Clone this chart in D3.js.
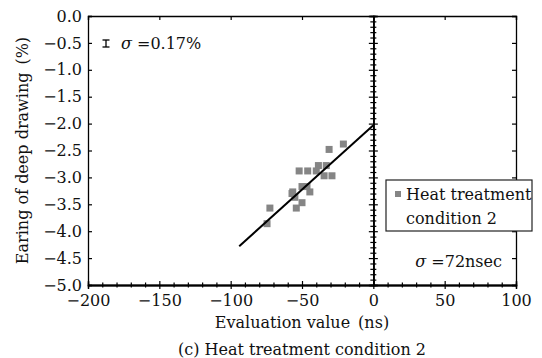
<!DOCTYPE html>
<html>
<head>
<meta charset="utf-8">
<title>Earing vs evaluation value</title>
<script src="https://d3js.org/d3.v7.min.js"></script>
<style>
  body { margin: 0; background: #fff; }
  svg text { font-family: "DejaVu Serif", serif; fill: #111; font-size: 16px; }
  .domain { stroke: #000; }
  .tick line { stroke: #000; }
</style>
</head>
<body>
<div id="chart"></div>
<script>
// data
var evalValue = [-21, -31, -52, -46, -40, -38.5, -33, -34.5, -29, -50, -46.5, -56.5, -44.5, -55, -50, -54, -72.5, -74.5, -57];
var earing    = [-2.38, -2.48, -2.88, -2.88, -2.88, -2.78, -2.78, -2.97, -2.97, -3.17, -3.17, -3.27, -3.27, -3.37, -3.47, -3.57, -3.57, -3.86, -3.3];
var fitX = [-94, 0];
var fitY = [-4.28, -2.03];
var xTicks = [-200, -150, -100, -50, 0, 50, 100];
var yTicks = [0, -0.5, -1, -1.5, -2, -2.5, -3, -3.5, -4, -4.5, -5];
var legendLines = ["Heat treatment", "condition 2"];

var W = 542, H = 358;
var margin = { top: 16, right: 26, bottom: 73, left: 88 };
var width = W - margin.left - margin.right;
var height = H - margin.top - margin.bottom;

var svg = d3.select("#chart").append("svg")
    .attr("width", W)
    .attr("height", H);
var g = svg.append("g")
    .attr("transform", "translate(" + margin.left + "," + margin.top + ")");

var x = d3.scaleLinear().domain([-200, 100]).range([0, width]);
var y = d3.scaleLinear().domain([-5, 0]).range([height, 0]);

function fmt(v, d) {
  var s = Math.abs(v).toFixed(d);
  return v < 0 ? "\u2212" + s : s;
}

// minor tick values
var xMinor = d3.range(-200, 101, 10).filter(v => v % 50 != 0);
var yMinor = d3.range(0, 51, 1).map(v => -v / 10).filter(v => Math.round(v * 10) % 5 != 0);

// left axis (with labels)
g.append("g")
    .call(d3.axisRight(y).tickValues(yTicks).tickSize(4).tickFormat(""));
g.append("g")
    .call(d3.axisLeft(y).tickValues(yTicks).tickSize(0).tickPadding(6).tickFormat(d => fmt(d, 1)))
    .call(s => s.select(".domain").remove())
    .selectAll("text").style("font-size", "16px");

// right axis
g.append("g")
    .attr("transform", "translate(" + width + ",0)")
    .call(d3.axisLeft(y).tickValues(yTicks).tickSize(4).tickFormat(""));

// top axis
g.append("g")
    .call(d3.axisBottom(x).tickValues(xTicks).tickSize(4).tickFormat(""));

// bottom axis: crossing ticks
var bottom = g.append("g").attr("transform", "translate(0," + height + ")");
bottom.append("g").call(d3.axisBottom(x).tickValues(xTicks).tickSize(4).tickFormat(""));
bottom.append("g").call(d3.axisTop(x).tickValues(xTicks).tickSize(4).tickFormat(""));
bottom.append("g").call(d3.axisBottom(x).tickValues(xMinor).tickSize(2.5).tickFormat(""));
bottom.append("g").call(d3.axisTop(x).tickValues(xMinor).tickSize(2.5).tickFormat(""));
bottom.append("g")
    .call(d3.axisBottom(x).tickValues(xTicks).tickSize(0).tickPadding(10).tickFormat(d => fmt(d, 0)))
    .call(s => s.select(".domain").remove())
    .selectAll("text").style("font-size", "16px");

// middle axis at x = 0
var mid = g.append("g").attr("transform", "translate(" + x(0) + ",0)");
mid.append("g").call(d3.axisLeft(y).tickValues(yTicks).tickSize(4.5).tickFormat(""));
mid.append("g").call(d3.axisRight(y).tickValues(yTicks).tickSize(4.5).tickFormat(""));
mid.append("g").call(d3.axisLeft(y).tickValues(yMinor).tickSize(3).tickFormat(""));
mid.append("g").call(d3.axisRight(y).tickValues(yMinor).tickSize(3).tickFormat(""));
g.selectAll(".domain").attr("stroke-width", 1.3);
g.selectAll(".tick line").attr("stroke-width", 1.2);

// points
var pts = evalValue.map((v, i) => ({ x: v, y: earing[i] }));
g.selectAll(".pt")
    .data(pts)
    .enter().append("rect")
    .attr("class", "pt")
    .attr("x", d => x(d.x) - 3.5)
    .attr("y", d => y(d.y) - 3.5)
    .attr("width", 7)
    .attr("height", 7)
    .attr("fill", "#858585");

// fit line
g.append("line")
    .attr("x1", x(fitX[0])).attr("y1", y(fitY[0]))
    .attr("x2", x(fitX[1])).attr("y2", y(fitY[1]))
    .attr("stroke", "#000")
    .attr("stroke-width", 2);

// error bar annotation
var eb = g.append("g").attr("transform", "translate(18,27.5)");
eb.append("line").attr("x1", 0).attr("x2", 0).attr("y1", -3.5).attr("y2", 3.5).attr("stroke", "#000").attr("stroke-width", 1.3);
eb.append("line").attr("x1", -3.5).attr("x2", 3.5).attr("y1", -3.5).attr("y2", -3.5).attr("stroke", "#000").attr("stroke-width", 1.3);
eb.append("line").attr("x1", -3.5).attr("x2", 3.5).attr("y1", 3.5).attr("y2", 3.5).attr("stroke", "#000").attr("stroke-width", 1.3);
var t1 = g.append("text").attr("x", 33).attr("y", 33);
t1.append("tspan").style("font-style", "italic").text("\u03c3");
t1.append("tspan").text(" =0.17%");

// sigma text bottom right
var t2 = g.append("text").attr("x", 502 - margin.left).attr("y", 251)
    .attr("text-anchor", "end");
t2.append("tspan").style("font-style", "italic").text("\u03c3");
t2.append("tspan").text(" =72nsec");

// legend
var leg = svg.append("g").attr("transform", "translate(386,180)");
leg.append("rect")
    .attr("width", 146).attr("height", 51)
    .attr("fill", "#fff").attr("stroke", "#222").attr("stroke-width", 1.2);
leg.append("rect")
    .attr("x", 9).attr("y", 11).attr("width", 6).attr("height", 6)
    .attr("fill", "#858585");
leg.selectAll(".lt")
    .data(legendLines)
    .enter().append("text")
    .attr("x", 20)
    .attr("y", (d, i) => 20 + i * 24)
    .text(d => d);

// axis titles
svg.append("text")
    .attr("x", margin.left + width / 2).attr("y", 328)
    .attr("text-anchor", "middle")
    .text("Evaluation value\u2002(ns)");
svg.append("text")
    .attr("transform", "translate(28," + (margin.top + height / 2) + ") rotate(-90)")
    .attr("text-anchor", "middle")
    .text("Earing of deep drawing\u2002(%)");
svg.append("text")
    .attr("x", margin.left + width / 2).attr("y", 355)
    .attr("text-anchor", "middle")
    .text("(c) Heat treatment condition 2");
</script>
</body>
</html>
